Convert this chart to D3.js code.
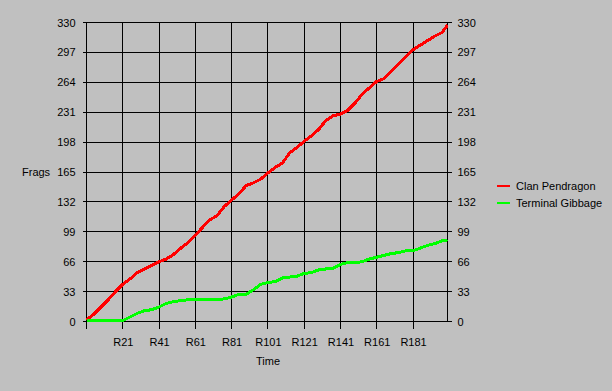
<!DOCTYPE html>
<html>
<head>
<meta charset="utf-8">
<script src="https://cdn.jsdelivr.net/npm/d3@7"></script>
<style>
  body { margin: 0; background: #c0c0c0; }
  svg { display: block; }
  text { font-family: Arial, "Liberation Sans", sans-serif; font-size: 11px; fill: #000; }
</style>
</head>
<body>
<svg id="chart"></svg>
<script>
// data
var rounds = [1, 5, 9, 13, 17, 21, 25, 29, 33, 37, 41, 45, 49, 53, 57, 61, 65, 69, 73, 77,
    81, 85, 89, 93, 97, 101, 105, 109, 113, 117, 121, 125, 129, 133, 137, 141, 145, 149, 153, 157,
    161, 165, 169, 173, 177, 181, 185, 189, 193, 197, 200];
var clanPendragon = [2, 8, 16, 24, 33, 41, 47, 54, 58, 62, 66, 69, 74, 81, 87, 95, 104, 112, 117, 127,
    134, 141, 150, 153, 157, 164, 170, 175, 186, 192, 199, 205, 212, 222, 227, 229, 233, 241, 251, 258,
    265, 268, 276, 284, 292, 300, 305, 310, 315, 319, 327];
var terminalGibbage = [1, 1, 1, 1, 1, 1, 5, 9, 12, 13, 16, 20, 22, 23, 24, 24, 24, 24, 24, 25,
    27, 30, 30, 35, 41, 43, 44, 48, 49, 50, 53, 54, 57, 58, 59, 63, 65, 65, 66, 69,
    71, 73, 75, 76, 78, 78, 81, 84, 86, 89, 90];
var seriesNames = ["Clan Pendragon", "Terminal Gibbage"];
var seriesColors = ["#ff0000", "#00ff00"];
var yTicks = [0, 33, 66, 99, 132, 165, 198, 231, 264, 297, 330];
var xTicks = [1, 21, 41, 61, 81, 101, 121, 141, 161, 181];
var xLabels = ["", "R21", "R41", "R61", "R81", "R101", "R121", "R141", "R161", "R181"];

let width = 612;
let height = 391;

var svg = d3.select("#chart")
    .attr("width", width)
    .attr("height", height);

var x = d3.scaleLinear().domain([1, 200]).range([86.5, 447.5]);
var y = d3.scaleLinear().domain([0, 330]).range([321.5, 22.5]);

// grid lines
var grid = svg.append("g").attr("stroke", "#000").attr("stroke-width", 1).attr("shape-rendering", "crispEdges");
grid.selectAll(".hgrid")
    .data(yTicks)
    .join("line")
    .attr("x1", x(1) - 4)
    .attr("x2", x(200) + 4)
    .attr("y1", d => y(d))
    .attr("y2", d => y(d));
grid.selectAll(".vgrid")
    .data(xTicks.concat([200]))
    .join("line")
    .attr("x1", d => x(d))
    .attr("x2", d => x(d))
    .attr("y1", y(330))
    .attr("y2", (d, i) => i < xTicks.length ? y(0) + 7 : y(0));

// axes (labels only, lines drawn above)
var leftAxis = d3.axisLeft(y).tickValues(yTicks).tickSize(0).tickPadding(11);
var rightAxis = d3.axisRight(y).tickValues(yTicks).tickSize(0).tickPadding(10);
var bottomAxis = d3.axisBottom(x).tickValues(xTicks).tickSize(0).tickPadding(17)
    .tickFormat((d, i) => xLabels[i]);

function styleAxis(g) {
    g.select(".domain").remove();
    g.selectAll("text").attr("font-family", "Arial, 'Liberation Sans', sans-serif").attr("font-size", 11);
}
svg.append("g").attr("transform", `translate(${x(1)},0)`).call(leftAxis).call(styleAxis);
svg.append("g").attr("transform", `translate(${x(200)},0)`).call(rightAxis).call(styleAxis);
svg.append("g").attr("transform", `translate(0,${y(0)})`).call(bottomAxis).call(styleAxis);

// axis titles
svg.append("text").attr("x", 22).attr("y", 176).text("Frags");
svg.append("text").attr("x", 256).attr("y", 365).text("Time");

// series lines
var line = d3.line()
    .x((d, i) => x(rounds[i]))
    .y(d => y(d));

[clanPendragon, terminalGibbage].forEach(function(values, i) {
    svg.append("path")
        .datum(values)
        .attr("d", line)
        .attr("fill", "none")
        .attr("stroke", seriesColors[i])
        .attr("stroke-width", 3)
        .attr("shape-rendering", "crispEdges");
});

// legend
var legend = svg.append("g");
seriesNames.forEach(function(name, i) {
    var ly = 186 + i * 17;
    legend.append("line")
        .attr("x1", 497).attr("x2", 510)
        .attr("y1", ly).attr("y2", ly)
        .attr("stroke", seriesColors[i])
        .attr("stroke-width", 2)
        .attr("shape-rendering", "crispEdges");
    legend.append("text").attr("x", 516).attr("y", ly + 4).text(name);
});
</script>
</body>
</html>
